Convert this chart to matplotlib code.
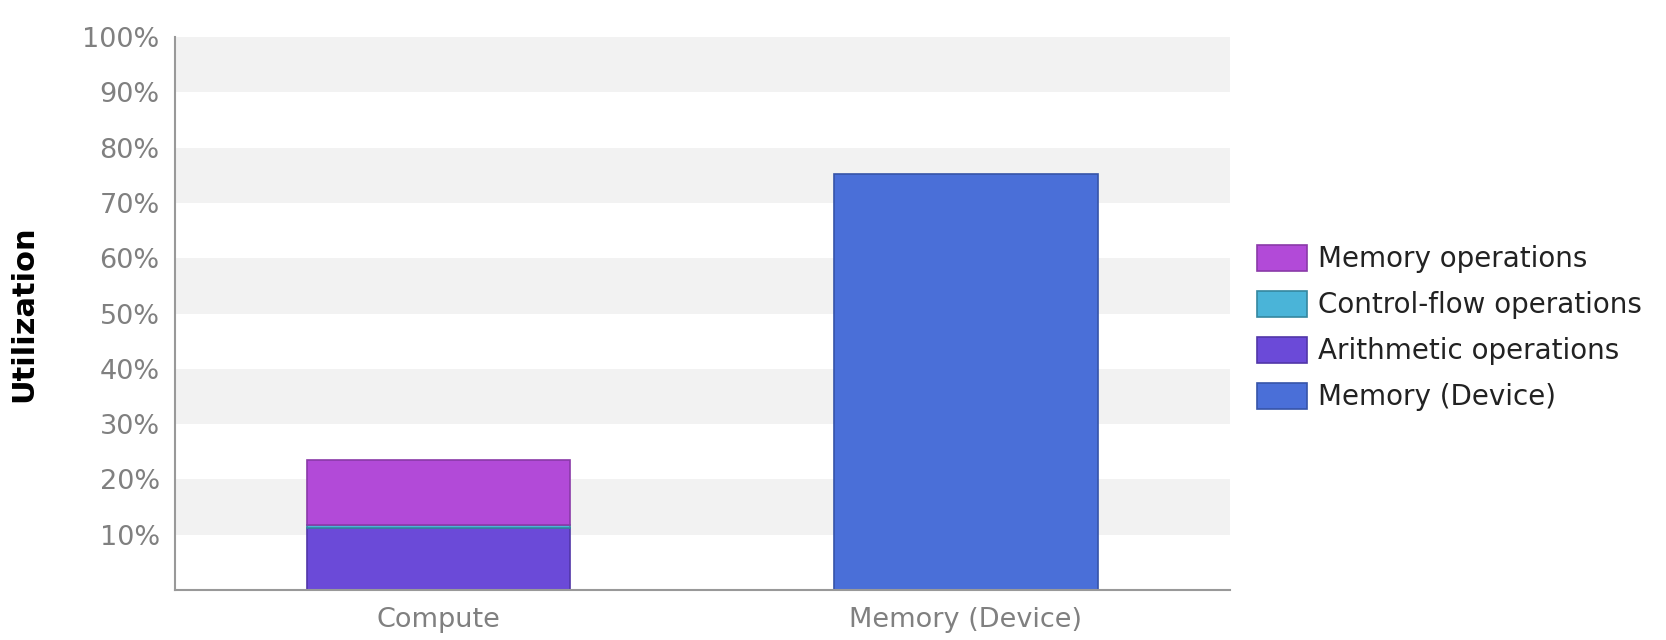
import numpy as np
import matplotlib.pyplot as plt
from matplotlib.patches import Patch

# Datos (porcentaje de utilizacion)
categories = ["Compute", "Memory (Device)"]
arithmetic_ops = [11.2, 0.0]
control_flow_ops = [0.5, 0.0]
memory_ops = [11.9, 0.0]
memory_device = [0.0, 75.2]

y_ticks = [10, 20, 30, 40, 50, 60, 70, 80, 90, 100]

# Colores (relleno, borde)
colors = {
    'Memory operations': ('#b24ad8', '#8a3aa8'),
    'Control-flow operations': ('#4ab4d8', '#35879f'),
    'Arithmetic operations': ('#6b4ad8', '#5136a8'),
    'Memory (Device)': ('#4a6fd8', '#3654a8'),
}

fig = plt.figure(figsize=(16.66, 6.4), dpi=100)
ax = fig.add_axes([0.105, 0.078, 0.633, 0.864])

# Bandas alternas de fondo
for lo in range(10, 100, 20):
    ax.axhspan(lo, lo + 10, color='#f2f2f2', zorder=0, lw=0)

x = np.arange(len(categories))
w = 0.5

bottom = np.zeros(len(categories))
series = [('Arithmetic operations', arithmetic_ops),
          ('Control-flow operations', control_flow_ops),
          ('Memory operations', memory_ops),
          ('Memory (Device)', memory_device)]
for name, vals in series:
    vals = np.array(vals)
    fc, ec = colors[name]
    mask = vals > 0
    ax.bar(x[mask], vals[mask], w, bottom=bottom[mask], color=fc,
           edgecolor=ec, linewidth=1.2, zorder=2)
    bottom += vals

ax.set_xlim(-0.5, 1.5)
ax.set_ylim(0, 100)
ax.set_xticks(x)
ax.set_xticklabels(categories, fontsize=19.5, color='#808080')
ax.set_yticks(y_ticks)
ax.set_yticklabels([f"{t}%" for t in y_ticks], fontsize=19.5, color='#808080')
ax.tick_params(length=0, pad=11)
ax.tick_params(axis='x', pad=12)

for side in ['top', 'right']:
    ax.spines[side].set_visible(False)
for side in ['left', 'bottom']:
    ax.spines[side].set_color('#999999')
    ax.spines[side].set_linewidth(1.5)

fig.text(0.014, 0.51, 'Utilization', rotation=90, fontsize=22,
         fontweight='bold', va='center', ha='center')

legend_order = ['Memory operations', 'Control-flow operations',
                'Arithmetic operations', 'Memory (Device)']
handles = [Patch(facecolor=colors[n][0], edgecolor=colors[n][1], linewidth=1.2)
           for n in legend_order]
fig.legend(handles, legend_order, loc='center left',
           bbox_to_anchor=(0.7545, 0.487), frameon=False, fontsize=20,
           handlelength=1.8, handleheight=1.03, labelspacing=0.64,
           handletextpad=0.4, borderpad=0, borderaxespad=0,
           labelcolor='#222222')

plt.savefig('out.png', dpi=100)
